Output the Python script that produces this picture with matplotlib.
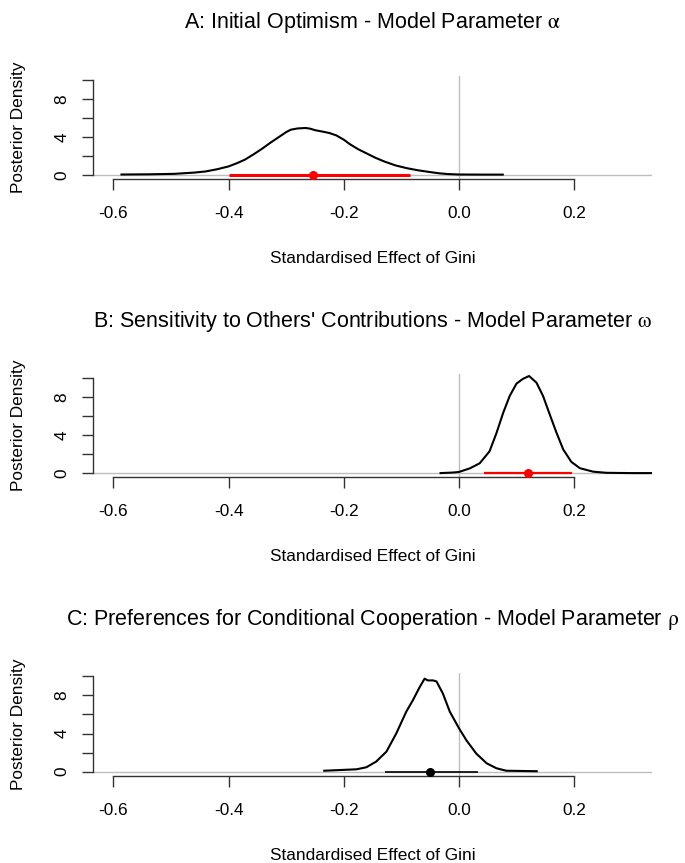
import matplotlib
matplotlib.use('Agg')
import matplotlib.pyplot as plt

# ======================
# DATA
# ======================

titles = [
    "A: Initial Optimism - Model Parameter $\\mathrm{\\alpha}$",
    "B: Sensitivity to Others' Contributions - Model Parameter $\\mathrm{\\omega}$",
    "C: Preferences for Conditional Cooperation - Model Parameter $\\mathrm{\\rho}$",
]

# Panel A: posterior density of alpha effect
a_x = [-0.586, -0.54, -0.494, -0.46, -0.44, -0.42, -0.40, -0.385, -0.372, -0.357,
       -0.342, -0.327, -0.311, -0.300, -0.292, -0.28, -0.266, -0.258, -0.25, -0.237,
       -0.225, -0.213, -0.20, -0.19, -0.175, -0.16, -0.145, -0.129, -0.11, -0.091,
       -0.072, -0.053, -0.035, -0.02, 0.0, 0.04, 0.076]
a_y = [0.05, 0.07, 0.12, 0.25, 0.37, 0.6, 0.9, 1.25, 1.6, 2.15,
       2.75, 3.4, 4.05, 4.5, 4.75, 4.88, 4.93, 4.85, 4.7, 4.55,
       4.4, 4.15, 3.7, 3.25, 2.7, 2.25, 1.8, 1.4, 1.0, 0.72,
       0.5, 0.33, 0.18, 0.1, 0.05, 0.04, 0.04]
a_ci = [-0.40, -0.085]
a_mean = -0.254

# Panel B: posterior density of omega effect
b_x = [-0.032, -0.01, 0.0, 0.019, 0.036, 0.053, 0.065, 0.0765, 0.088, 0.0998,
       0.111, 0.1217, 0.1346, 0.146, 0.158, 0.169, 0.181, 0.195, 0.21, 0.233,
       0.256, 0.3, 0.337]
b_y = [0.02, 0.08, 0.14, 0.52, 1.05, 2.3, 4.2, 6.3, 8.1, 9.4,
       9.9, 10.2, 9.5, 8.1, 6.1, 4.3, 2.5, 1.2, 0.53, 0.17,
       0.05, 0.02, 0.02]
b_ci = [0.043, 0.197]
b_mean = 0.119

# Panel C: posterior density of rho effect
c_x = [-0.234, -0.178, -0.161, -0.144, -0.126, -0.109, -0.0915, -0.08, -0.068, -0.0597,
       -0.054, -0.045, -0.039, -0.028, -0.016, 0.0, 0.0128, 0.030, 0.048, 0.065,
       0.082, 0.135]
c_y = [0.1, 0.25, 0.46, 1.05, 2.1, 4.0, 6.3, 7.5, 8.9, 9.75,
       9.57, 9.57, 9.46, 8.2, 6.3, 4.55, 3.3, 1.9, 0.88, 0.36,
       0.1, 0.05]
c_ci = [-0.129, 0.033]
c_mean = -0.051

x_ticks = [-0.6, -0.4, -0.2, 0.0, 0.2]
x_ticklabels = ['-0.6', '-0.4', '-0.2', '0.0', '0.2']
y_ticks = [0, 2, 4, 6, 8, 10]
y_ticklabels = ['0', '', '4', '', '8', '']

# ======================
# STYLE
# ======================

plt.rcParams['font.family'] = ['Liberation Sans', 'DejaVu Sans']
plt.rcParams['mathtext.fontset'] = 'stix'
axis_col = '#333333'
grey = '#bebebe'

W, H = 685, 863
fig = plt.figure(figsize=(W / 100, H / 100), dpi=100)

left = 92.7 / W
width = (652.5 - 92.7) / W
ax_h = 103.0
bottoms = [178.8, 477.1, 775.5]

panels = [
    (a_x, a_y, a_ci, a_mean, 'red', 2.2),
    (b_x, b_y, b_ci, b_mean, 'red', 1.6),
    (c_x, c_y, c_ci, c_mean, 'black', 1.2),
]

for i, (xs, ys, ci, mean, ci_col, ci_lw) in enumerate(panels):
    ax = fig.add_axes([left, 1 - bottoms[i] / H, width, ax_h / H])
    ax.set_xlim(-0.636, 0.336)
    ax.set_ylim(-0.4, 10.4)

    ax.axhline(0, color=grey, lw=1, zorder=1)
    ax.axvline(0, color=grey, lw=1, zorder=1)
    ax.plot(xs, ys, color='black', lw=1.5, zorder=3, solid_joinstyle='round')
    ax.plot(ci, [0, 0], color=ci_col, lw=ci_lw, zorder=4, solid_capstyle='butt')
    ax.plot([mean], [0], 'o', color=ci_col, ms=5.5, zorder=5)

    for s in ['top', 'right']:
        ax.spines[s].set_visible(False)
    ax.spines['left'].set_bounds(0, 10)
    ax.spines['bottom'].set_bounds(-0.6, 0.2)
    for s in ['left', 'bottom']:
        ax.spines[s].set_color(axis_col)
        ax.spines[s].set_linewidth(1.0)

    ax.set_xticks(x_ticks, labels=x_ticklabels)
    ax.set_yticks(y_ticks, labels=y_ticklabels)
    ax.tick_params(axis='x', length=8.1, width=1.0, color=axis_col,
                   labelsize=12.4, pad=11.5)
    ax.tick_params(axis='y', length=8.1, width=1.0, color=axis_col,
                   labelsize=12.4, pad=8.5)
    for lab in ax.get_yticklabels():
        lab.set_rotation(90)
        lab.set_va('center')

    ax.text(0.5, 1 + 47.5 / ax_h, titles[i], transform=ax.transAxes,
            ha='center', va='baseline', fontsize=15.5)
    ax.text(0.5, -84.0 / ax_h, 'Standardised Effect of Gini', transform=ax.transAxes,
            ha='center', va='baseline', fontsize=12.4)
    ax.text((18.3 - 92.7) / (652.5 - 92.7), 0.5, 'Posterior Density',
            transform=ax.transAxes, rotation=90, ha='center', va='center',
            fontsize=12.4)

fig.savefig('out.png', dpi=100)
